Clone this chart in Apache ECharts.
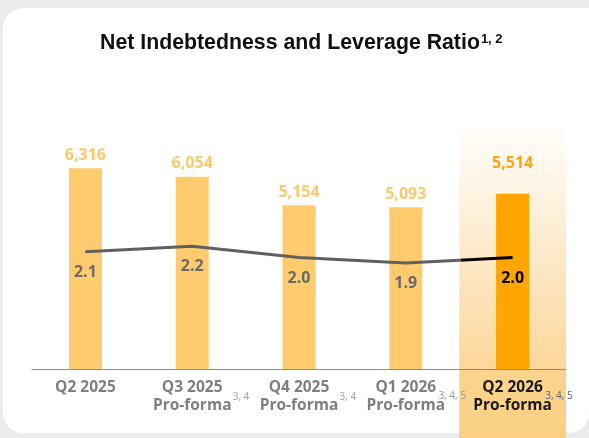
<!DOCTYPE html>
<html>
<head>
<meta charset="utf-8">
<script src="https://cdn.jsdelivr.net/npm/echarts@6/dist/echarts.min.js"></script>
<style>
  html, body { margin: 0; padding: 0; background: #ebebeb; }
  #chart { width: 589px; height: 438px; }
</style>
</head>
<body>
<div id="chart"></div>
<script>
// ---- data ----
const categories = ['Q2 2025', 'Q3 2025', 'Q4 2025', 'Q1 2026', 'Q2 2026'];
const subLabels = ['', 'Pro-forma', 'Pro-forma', 'Pro-forma', 'Pro-forma'];
const footnotes = ['', '3, 4', '3, 4', '3, 4, 5', '3, 4, 5'];
const netDebt = [6316, 6054, 5154, 5093, 5514];
const leverage = [2.1, 2.2, 2.0, 1.9, 2.0];
const highlight = [0, 0, 0, 0, 1];
const titleText = 'Net Indebtedness and Leverage Ratio';
const titleNote = '1, 2';

const LIGHT = '#FECB6E';
const DARK = '#FFA500';
const LINE_GRAY = '#606060';
const lastIdx = categories.length - 1;
// colour switch at the boundary between the last two categories (fraction along the line)
const switchAt = (lastIdx - 0.5) / lastIdx;

function axisFmt(value, idx) {
  const a = idx === lastIdx ? 'ak' : 'a';
  const fn = footnotes[idx];
  if (!fn) return '{' + a + '|' + value + '}';
  if (fn.length > 4) {
    return '{wl| }{' + a + '|' + value + '}{' + (idx === lastIdx ? 'fbk' : 'fb') + '|' + fn + '}\n{' + a + '|' + subLabels[idx] + '}';
  }
  return '{' + a + '|' + value + '}\n{ws| }{' + a + '|' + subLabels[idx] + '}{ft|' + fn + '}';
}

const chart = echarts.init(document.getElementById('chart'), null, { renderer: 'canvas' });

const baseLbl = { fontFamily: 'Open Sans', fontWeight: 'bold', fontSize: 15.5, lineHeight: 18 };
const noteLbl = { fontFamily: 'Open Sans', fontSize: 10, lineHeight: 2, height: 1 };

chart.setOption({
  backgroundColor: '#ebebeb',
  animation: false,
  graphic: [{
    type: 'rect', z: -10, silent: true,
    shape: { x: 3, y: 8, width: 586, height: 425, r: [20, 0, 20, 20] },
    style: { fill: '#ffffff' }
  }],
  title: {
    left: 95, top: 28,
    text: '{t|' + titleText + '}{s|' + titleNote + '}',
    textStyle: {
      rich: {
        t: { fontFamily: 'Liberation Sans', fontWeight: 'bold', fontSize: 21.3, color: '#111111', lineHeight: 21 },
        s: { fontFamily: 'Liberation Sans', fontWeight: 'bold', fontSize: 13, color: '#111111', lineHeight: 16, verticalAlign: 'top', padding: [0, 0, 0, 1] }
      }
    }
  },
  grid: [
    { left: 32, right: 23, top: 118, bottom: 69 },
    { left: 32, right: 23, top: 128, bottom: 0 }
  ],
  xAxis: [{
    type: 'category', gridIndex: 0, data: categories, z: 5,
    axisLine: { lineStyle: { color: '#8c8c8c', width: 1 } },
    axisTick: { show: false },
    axisLabel: {
      interval: 0, margin: 10,
      formatter: axisFmt,
      rich: {
        a: Object.assign({ color: '#7f7f7f' }, baseLbl),
        ak: Object.assign({ color: '#1a1a1a' }, baseLbl),
        ft: Object.assign({ color: '#a0a0a8', width: 17, verticalAlign: 'top', padding: [0, 0, 0, 1] }, noteLbl),
        ws: { width: 18, lineHeight: 2, height: 1, fontSize: 10 },
        fb: Object.assign({ color: '#9196a6', width: 28, verticalAlign: 'bottom', padding: [0, 0, 0, 2] }, noteLbl),
        fbk: Object.assign({ color: '#56627e', width: 28, verticalAlign: 'bottom', padding: [0, 0, 0, 2] }, noteLbl),
        wl: { width: 30, lineHeight: 2, height: 1, fontSize: 10 }
      }
    }
  }, {
    type: 'category', gridIndex: 1, data: categories, show: false
  }],
  yAxis: [
    { type: 'value', gridIndex: 0, min: 0, max: 7900, show: false },
    { type: 'value', gridIndex: 0, min: 0, max: 4.5, show: false },
    { type: 'value', gridIndex: 1, min: 0, max: 1, show: false }
  ],
  series: [
    {
      type: 'bar', xAxisIndex: 1, yAxisIndex: 2, z: 1, silent: true,
      barWidth: '100%',
      data: highlight.map(v => v || null),
      itemStyle: {
        color: new echarts.graphic.LinearGradient(0, 0, 0, 1, [
          { offset: 0, color: 'rgba(253,205,135,0.04)' },
          { offset: 0.777, color: 'rgba(252,205,130,0.8)' },
          { offset: 0.778, color: '#fcd48e' },
          { offset: 1, color: '#fbd085' }
        ])
      }
    },
    {
      type: 'bar', xAxisIndex: 0, yAxisIndex: 0, z: 2, barWidth: 33,
      data: netDebt.map((v, i) => ({
        value: v,
        itemStyle: { color: i === lastIdx ? DARK : LIGHT },
        label: i === lastIdx ? { color: '#FFA20F', distance: 22 } : {}
      })),
      label: {
        show: true, position: 'top', distance: 5,
        fontFamily: 'Open Sans', fontWeight: 'bold', fontSize: 16, color: '#FDC86C',
        formatter: p => p.value.toLocaleString('en-US')
      }
    },
    {
      type: 'line', xAxisIndex: 0, yAxisIndex: 1, z: 3,
      data: leverage.map((v, i) => ({
        value: v,
        label: i === lastIdx ? { color: '#000000' } : {}
      })),
      symbol: 'circle', symbolSize: 1, showSymbol: true,
      itemStyle: { color: LINE_GRAY },
      lineStyle: {
        width: 3,
        color: new echarts.graphic.LinearGradient(0, 0, 1, 0, [
          { offset: 0, color: LINE_GRAY },
          { offset: switchAt, color: LINE_GRAY },
          { offset: switchAt + 0.0001, color: '#000000' },
          { offset: 1, color: '#000000' }
        ])
      },
      label: {
        show: true, position: 'bottom', distance: 12,
        fontFamily: 'Open Sans', fontWeight: 'bold', fontSize: 16, color: '#6a6a6a',
        formatter: p => p.value.toFixed(1)
      }
    }
  ]
});
</script>
</body>
</html>
